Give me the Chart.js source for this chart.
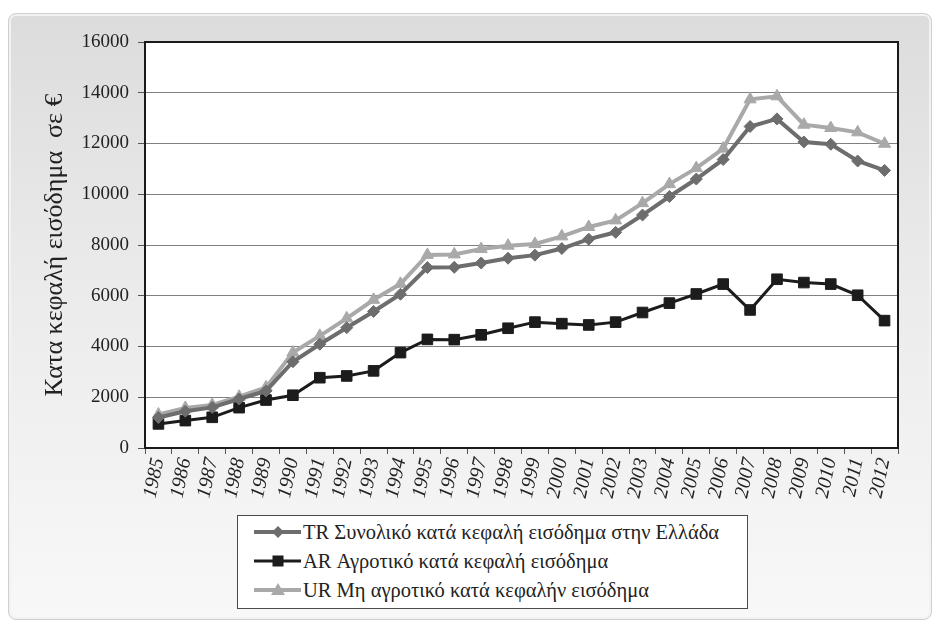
<!DOCTYPE html>
<html>
<head>
<meta charset="utf-8">
<script src="https://cdn.jsdelivr.net/npm/chart.js@4.4.0/dist/chart.umd.min.js"></script>
<style>
  html, body { margin: 0; padding: 0; background: #ffffff; }
  #wrap { position: relative; width: 937px; height: 624px; overflow: hidden; }
  #frame {
    position: absolute; left: 8px; top: 13px; width: 922px; height: 605px;
    border-radius: 8px; border: 1px solid #cfcfcf;
    background: linear-gradient(to bottom, #dcdcdc 0%, #ebebeb 45%, #f8f8f8 100%);
    box-shadow: inset 0 0 0 2px #f2f2f2;
  }
  #c { position: absolute; left: 0; top: 0; }
  #legend {
    position: absolute; left: 237px; top: 515px; width: 511px; height: 94px;
    background: #ffffff; border: 1px solid #4a4a4a; box-sizing: border-box;
    font-family: "Liberation Serif", "DejaVu Serif", serif; font-size: 20.5px; color: #222;
  }
  .row { position: absolute; left: 0; height: 24px; width: 100%; }
  .row svg { position: absolute; left: 16px; top: 0; }
  .row span { position: absolute; left: 65px; top: 0px; white-space: nowrap; line-height: 24px; }
</style>
</head>
<body>
<div id="wrap">
  <div id="frame"></div>
  <canvas id="c" width="937" height="624"></canvas>
  <div id="legend"></div>
</div>
<script>
const years = ["1985","1986","1987","1988","1989","1990","1991","1992","1993","1994","1995","1996","1997","1998","1999","2000","2001","2002","2003","2004","2005","2006","2007","2008","2009","2010","2011","2012"];
const trValues = [1200, 1450, 1600, 1930, 2250, 3400, 4090, 4740, 5380, 6060, 7110, 7120, 7290, 7480, 7600, 7860, 8230, 8500, 9180, 9910, 10600, 11370, 12670, 12970, 12060, 11970, 11310, 10940];
const arValues = [950, 1080, 1210, 1590, 1890, 2080, 2770, 2840, 3040, 3760, 4280, 4270, 4460, 4720, 4960, 4900, 4850, 4960, 5340, 5710, 6070, 6460, 5440, 6650, 6520, 6460, 6020, 5020];
const urValues = [1320, 1580, 1700, 2020, 2390, 3760, 4420, 5110, 5840, 6470, 7610, 7630, 7840, 7970, 8040, 8340, 8710, 8970, 9650, 10400, 11030, 11800, 13740, 13860, 12740, 12610, 12440, 11990];
const seriesNames = ["TR Συνολικό κατά κεφαλή εισόδημα στην Ελλάδα", "AR Αγροτικό κατά κεφαλή εισόδημα", "UR Μη αγροτικό κατά κεφαλήν εισόδημα"];
const yTitle = "Κατα κεφαλή εισόδημα  σε €";

const colTR = "#6d6d6d", colAR = "#1c1c1c", colUR = "#a9a9a9";
const serif = "'Liberation Serif', 'DejaVu Serif', serif";

const plotFrame = {
  id: 'plotFrame',
  beforeDraw(chart) {
    const a = chart.chartArea, ctx = chart.ctx;
    ctx.save();
    ctx.fillStyle = '#ffffff';
    ctx.fillRect(a.left, a.top, a.right - a.left, a.bottom - a.top);
    ctx.restore();
  },
  afterDraw(chart) {
    const a = chart.chartArea, ctx = chart.ctx;
    ctx.save();
    ctx.strokeStyle = '#1a1a1a';
    ctx.lineWidth = 2;
    ctx.beginPath();
    ctx.moveTo(a.left, a.top); ctx.lineTo(a.right, a.top); ctx.lineTo(a.right, a.bottom);
    ctx.stroke();
    ctx.restore();
  }
};

new Chart(document.getElementById('c'), {
  type: 'line',
  data: {
    labels: years,
    datasets: [
      { label: seriesNames[0], data: trValues, borderColor: colTR, backgroundColor: colTR, borderWidth: 4,
        pointStyle: 'rectRot', pointRadius: 6, pointBorderWidth: 1, pointBorderColor: colTR, pointBackgroundColor: colTR, tension: 0 },
      { label: seriesNames[1], data: arValues, borderColor: colAR, backgroundColor: colAR, borderWidth: 3,
        pointStyle: 'rect', pointRadius: 7.5, pointBorderWidth: 1, pointBorderColor: colAR, pointBackgroundColor: colAR, tension: 0 },
      { label: seriesNames[2], data: urValues, borderColor: colUR, backgroundColor: colUR, borderWidth: 4,
        pointStyle: 'triangle', pointRadius: 7, pointBorderWidth: 1, pointBorderColor: colUR, pointBackgroundColor: colUR, tension: 0 }
    ]
  },
  options: {
    responsive: false,
    animation: false,
    devicePixelRatio: 1,
    layout: { padding: { left: 8, right: 39, top: 42, bottom: 106 } },
    plugins: { legend: { display: false }, tooltip: { enabled: false } },
    scales: {
      x: {
        type: 'category',
        offset: true,
        afterFit(s) { s.height = 70; },
        grid: { offset: true, drawOnChartArea: false, drawTicks: true, tickLength: 6, color: '#555555', lineWidth: 1 },
        border: { display: true, color: '#1a1a1a', width: 2 },
        ticks: { autoSkip: false, maxRotation: 78, minRotation: 78, padding: 2, color: '#222222',
                 font: { family: serif, size: 20, style: 'italic' } }
      },
      y: {
        min: 0, max: 16000,
        afterFit(s) { s.width = 137; },
        ticks: { stepSize: 2000, padding: 9, color: '#222222', font: { family: serif, size: 19 },
                 callback: (v) => String(v) },
        grid: { color: '#808080', lineWidth: 1, drawTicks: true, tickLength: 7, tickColor: '#555555' },
        border: { display: true, color: '#1a1a1a', width: 2 },
        title: { display: true, text: yTitle, color: '#222222', padding: { top: 32, bottom: 0 },
                 font: { family: serif, size: 26, weight: 'normal' } }
      }
    }
  },
  plugins: [plotFrame]
});

// HTML legend
const legendEl = document.getElementById('legend');
const legendDefs = [
  { name: seriesNames[0], color: colTR, w: 4, marker: 'diamond' },
  { name: seriesNames[1], color: colAR, w: 3, marker: 'square' },
  { name: seriesNames[2], color: colUR, w: 4, marker: 'triangle' }
];
const rowTops = [4, 33, 62];
legendDefs.forEach((d, i) => {
  const row = document.createElement('div');
  row.className = 'row';
  row.style.top = rowTops[i] + 'px';
  let m = '';
  if (d.marker === 'diamond') m = `<polygon points="24,6 30,12 24,18 18,12" fill="${d.color}"/>`;
  if (d.marker === 'square') m = `<rect x="18.5" y="6.5" width="11" height="11" fill="${d.color}"/>`;
  if (d.marker === 'triangle') m = `<polygon points="24,5 31,17 17,17" fill="${d.color}"/>`;
  row.innerHTML = `<svg width="48" height="24" viewBox="0 0 48 24"><line x1="0" y1="12" x2="47" y2="12" stroke="${d.color}" stroke-width="${d.w}"/>${m}</svg><span></span>`;
  row.querySelector('span').textContent = d.name;
  legendEl.appendChild(row);
});
</script>
</body>
</html>
